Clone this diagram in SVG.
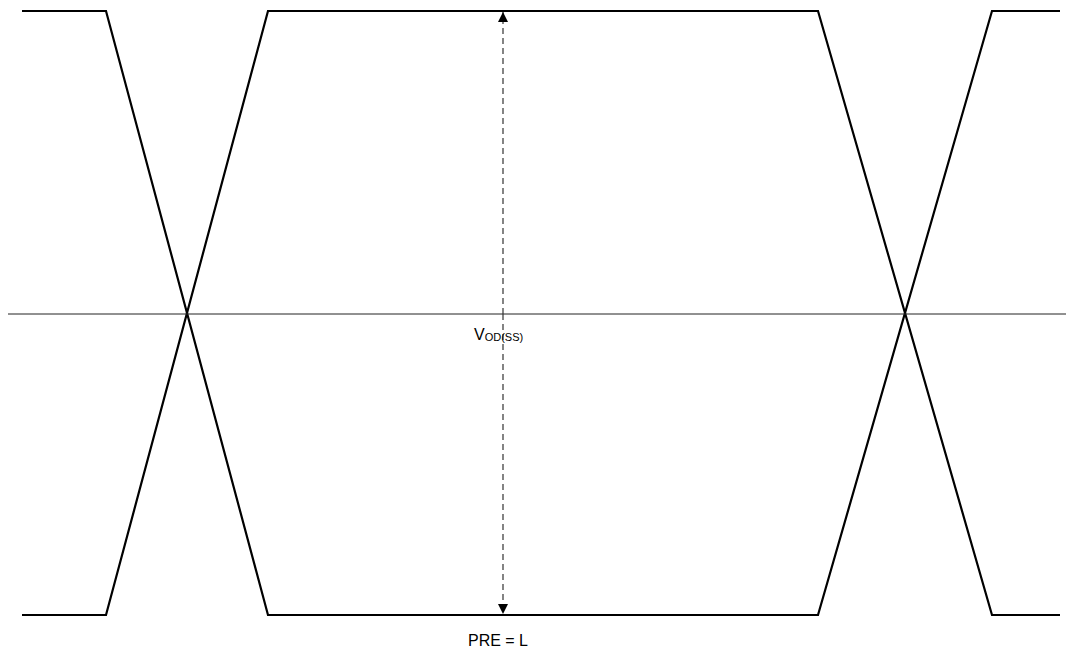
<svg xmlns="http://www.w3.org/2000/svg" width="1070" height="652" viewBox="0 0 1070 652">
<style>
.wave{fill:none;stroke:#000;stroke-width:2.2;stroke-linejoin:miter}
.axis{stroke:#222;stroke-width:1}
.dim{stroke:#333;stroke-width:1.2;stroke-dasharray:6,4}
text{font-family:"Liberation Sans",Arial,sans-serif;fill:#000}
</style>
<defs>
<marker id="ah" viewBox="0 0 10 10" refX="10" refY="5" markerWidth="10" markerHeight="12" markerUnits="userSpaceOnUse" orient="auto"><path d="M0,0 L10,5 L0,10 z" fill="#000"/></marker>
</defs>
<rect width="1070" height="652" fill="#fff"/>
<g id="waveform">
<polyline class="wave" points="22,11 106,11 268,615 818,615 992,11 1060,11"/>
<polyline class="wave" points="22,615 106,615 268,11 818,11 992,615 1060,615"/>
</g>
<g id="axis">
<line class="axis" x1="8" y1="314" x2="1066" y2="314"/>
</g>
<g id="connectors">
<line class="dim" x1="503" y1="314" x2="503" y2="12" marker-end="url(#ah)"/>
<line class="dim" x1="503" y1="314" x2="503" y2="614" marker-end="url(#ah)"/>
</g>
<g id="labels">
<text x="474" y="340" font-size="16">V<tspan font-size="11" dy="1">OD(SS)</tspan></text>
<text x="498" y="646" font-size="16" text-anchor="middle">PRE = L</text>
</g>
</svg>
